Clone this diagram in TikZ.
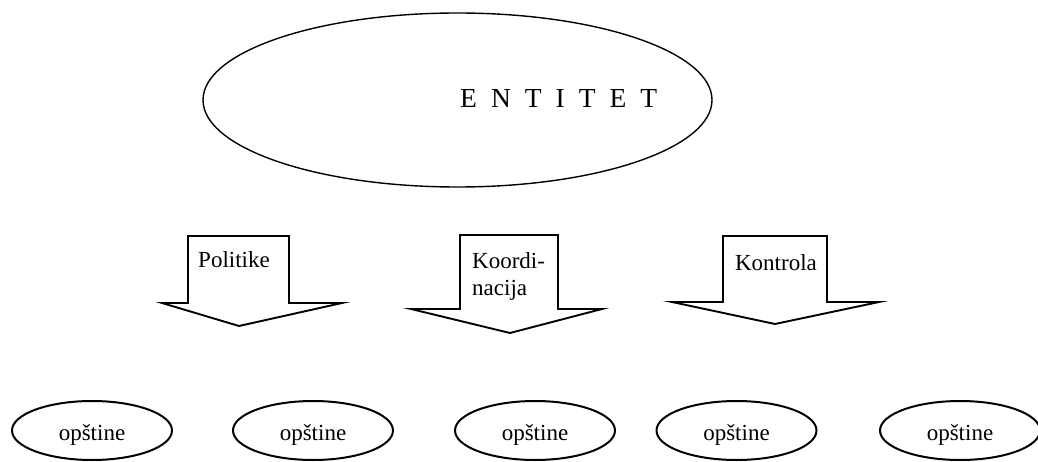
\documentclass[tikz,border=0pt]{standalone}
\usepackage{fontspec}
\setmainfont{Liberation Serif}
\usetikzlibrary{shapes.geometric}
\tikzset{
  bigell/.style={draw, ellipse, line width=1.4pt, inner sep=0pt, minimum width=509pt, minimum height=174pt},
  smallell/.style={draw, ellipse, line width=2pt, inner sep=0pt, minimum width=160pt, minimum height=59pt,
     font=\fontsize{23}{27}\selectfont, text height=19pt, text depth=0pt},
  arrowshape/.style={draw, line width=1.9pt, line join=miter},
  lbl/.style={font=\fontsize{23}{27}\selectfont, inner sep=0pt}
}
\begin{document}
\begin{tikzpicture}[x=1pt,y=-1pt]
\useasboundingbox (0,0) rectangle (1038,462);
% top entity
\node[bigell] (entitet) at (457.5,100) {};
\node[lbl, anchor=base west, font=\fontsize{27.5}{30}\selectfont] (entitetlbl) at (460,108) {\spaceskip=14pt E N T I T E T};
% arrows
\draw[arrowshape] (188,236) -- (289,236) -- (289,303) -- (342,303) -- (239,326) -- (162,303) -- (188,303) -- cycle;
\draw[arrowshape] (460,235) -- (558,235) -- (558,309) -- (602,309) -- (510,333) -- (411,309) -- (460,309) -- cycle;
\draw[arrowshape] (723,236) -- (827,236) -- (827,302) -- (879,302) -- (775,324) -- (672,302) -- (723,302) -- cycle;
\node[lbl, anchor=base] (politike) at (234,268) {Politike};
\node[lbl, anchor=base west, align=left] (koord) at (472,295) {Koordi{-}\\nacija};
\node[lbl, anchor=base] (kontrola) at (776,270) {Kontrola};
% municipalities
\node[smallell] (o1) at (92,430.5) {opštine};
\node[smallell] (o2) at (313,430.5) {opštine};
\node[smallell] (o3) at (535,430.5) {opštine};
\node[smallell] (o4) at (736.5,430.5) {opštine};
\node[smallell] (o5) at (960,430.5) {opštine};
\end{tikzpicture}
\end{document}
